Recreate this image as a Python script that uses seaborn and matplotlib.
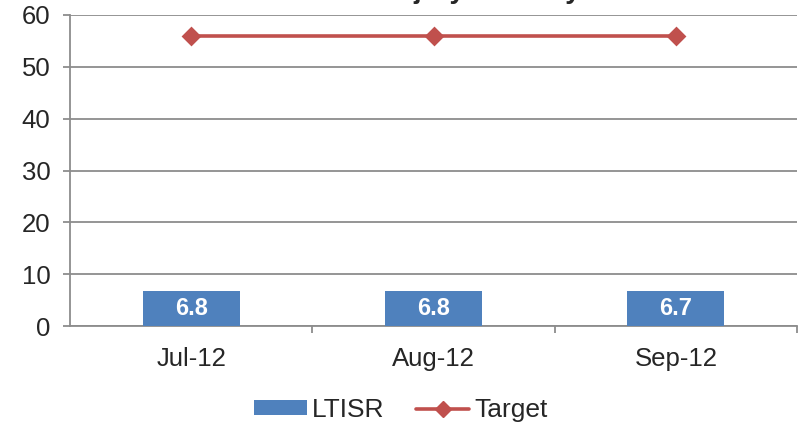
import numpy as np
import pandas as pd
import seaborn as sns
import matplotlib.pyplot as plt
from matplotlib.patches import Patch
from matplotlib.lines import Line2D

months = ['Jul-12', 'Aug-12', 'Sep-12']
ltisr = [6.8, 6.8, 6.7]
target = [56, 56, 56]
title = 'Lost Time Injury Severity Rate'

bar_color = '#4F81BD'
line_color = '#C0504D'
grey = '#8C8C8C'

df = pd.DataFrame({'month': months, 'LTISR': ltisr, 'Target': target})

sns.set_style('white')
plt.rcParams['font.family'] = ['Liberation Sans', 'DejaVu Sans']

fig = plt.figure(figsize=(8.02, 4.26), dpi=100)
ax = fig.add_axes([70 / 802, 100 / 426, 727 / 802, 311 / 426])

sns.barplot(data=df, x='month', y='LTISR', color=bar_color, width=0.4,
            saturation=1, edgecolor='none', ax=ax, zorder=3)
sns.pointplot(data=df, x='month', y='Target', color=line_color, markers='D',
              linestyles='-', markersize=8.5, linewidth=2.6, ax=ax, zorder=4)

# bar value labels
for i, v in enumerate(ltisr):
    ax.text(i, v / 2, f'{v:.1f}', ha='center', va='center', color='white',
            fontsize=17, fontweight='bold', zorder=5)

ax.set_xlim(-0.5, 2.5)
ax.set_ylim(0, 60)
ax.set_yticks(range(0, 61, 10))
ax.yaxis.grid(True, color=grey, linewidth=1.3, zorder=0)
ax.set_axisbelow(True)
ax.set_xlabel('')
ax.set_ylabel('')

for s in ['top', 'right']:
    ax.spines[s].set_visible(False)
for s in ['left', 'bottom']:
    ax.spines[s].set_color(grey)
    ax.spines[s].set_linewidth(1.3)

ax.tick_params(axis='y', length=5, width=1.3, color=grey, labelsize=18.5, pad=9, left=True)
ax.tick_params(axis='x', which='major', length=0, labelsize=18.5, pad=15)
ax.set_xticks([0.5, 1.5, 2.5], minor=True)
ax.tick_params(axis='x', which='minor', length=5, width=1.3, color=grey, bottom=True)

# title sits mostly above the canvas, only descenders show
fig.text(450 / 802, 1 + 2 / 426, title, ha='center', va='baseline',
         fontsize=20, fontweight='bold')

handles = [Patch(facecolor=bar_color, edgecolor='none', label='LTISR'),
           Line2D([0], [0], color=line_color, lw=2.6, marker='D', markersize=8.5,
                  label='Target')]
fig.legend(handles=handles, loc='center', bbox_to_anchor=(0.5, 0.038), ncol=2,
           frameon=False, fontsize=19, handlelength=2.0, handleheight=0.45,
           handletextpad=0.2, columnspacing=1.2)

fig.savefig('out.png', dpi=100)
